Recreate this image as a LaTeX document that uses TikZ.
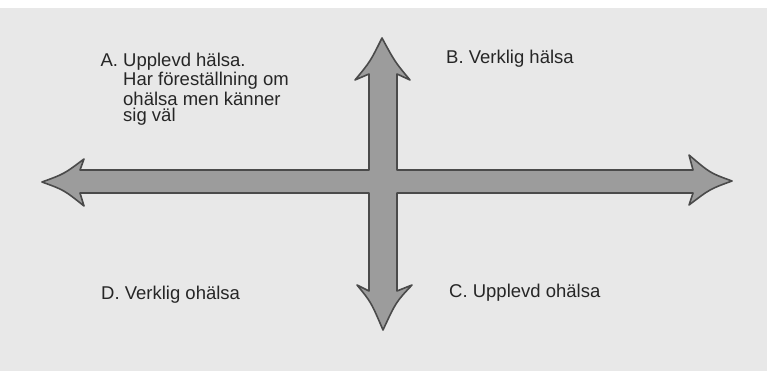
\documentclass[tikz,border=0pt]{standalone}
\usepackage{fontspec}
\setmainfont{Liberation Sans}
\definecolor{paper}{HTML}{E8E8E8}
\definecolor{arrowfill}{HTML}{9C9C9C}
\definecolor{arrowline}{HTML}{4A4A4A}
\begin{document}
\begin{tikzpicture}[x=1pt,y=-1pt,every node/.style={font=\fontsize{18.5}{20}\selectfont,inner sep=0pt,text=black!85}]
% paper
\fill[paper] (0,0) rectangle (767,371);
\fill[white] (0,0) rectangle (767,8);
\useasboundingbox (0,0) rectangle (767,371);
% centre of the cross
\coordinate (mid) at (383,181.5);
% the double-headed arrows as one outline
\filldraw[fill=arrowfill,draw=arrowline,line width=1.6pt,line join=round]
  (42,182) .. controls (64,174) .. (84,159) -- (80,170) -- (369,170)
  -- (369,74) -- (355,80) .. controls (370,62) .. (382,38) .. controls (395,62) .. (410,80) -- (397,74)
  -- (397,170) -- (693,170) -- (689,155) .. controls (710,173) .. (732,181) .. controls (710,189) .. (689,205) -- (693,193)
  -- (397,193) -- (397,291) -- (412,285) .. controls (396,302) .. (383,330) .. controls (371,302) .. (357,285) -- (369,291)
  -- (369,193) -- (80,193) -- (84,206) .. controls (64,190) .. cycle;
% quadrant labels (base = last line)
\node[anchor=base west,align=left] (qa) at (123,122) {\llap{A.\ }Upplevd hälsa.\\[-0.5pt]Har föreställning om\\ohälsa men känner\\[-4pt]sig väl};
\node[anchor=base west] (qb) at (446,64) {B. Verklig hälsa};
\node[anchor=base west] (qc) at (449,297) {C. Upplevd ohälsa};
\node[anchor=base west] (qd) at (101,299.5) {D. Verklig ohälsa};
\end{tikzpicture}
\end{document}
